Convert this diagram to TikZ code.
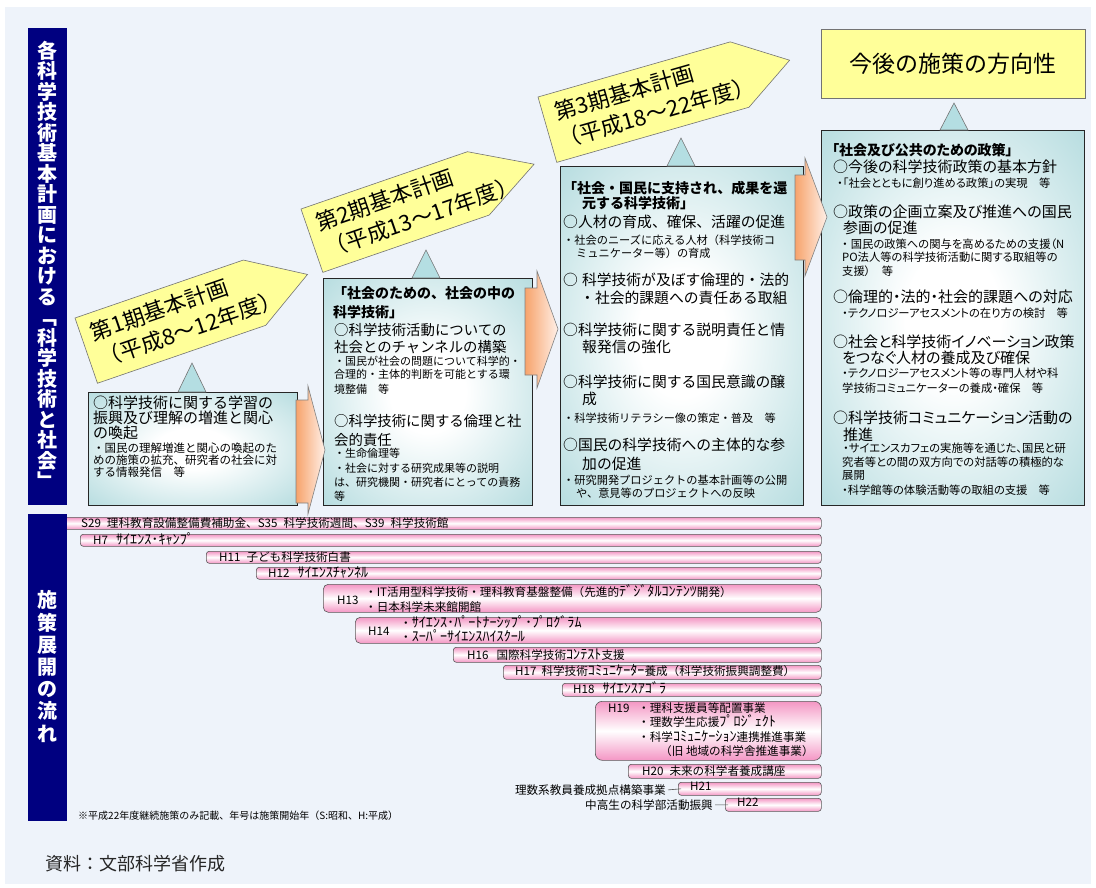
\documentclass[tikz,border=0pt]{standalone}
\usepackage{fontspec}
\usepackage{graphicx}
\setmainfont{Noto Sans CJK JP}
\newfontfamily\pj{Noto Sans CJK JP}[RawFeature=+palt]
\newcommand\hk[1]{\scalebox{1.22}[1.2]{#1}}
\definecolor{panelc}{RGB}{238,243,250}
\definecolor{navyc}{RGB}{0,0,128}
\definecolor{tealc}{RGB}{160,210,214}
\definecolor{tritc}{RGB}{180,222,226}
\definecolor{yelc}{RGB}{255,255,153}
\definecolor{orc}{RGB}{247,163,107}
\definecolor{peachc}{RGB}{255,240,232}
\definecolor{pinkc}{RGB}{244,150,196}
\pgfdeclareradialshading{tealrad}{\pgfpoint{0bp}{0bp}}{color(0bp)=(white);color(9bp)=(white);color(44bp)=(tealc);color(50bp)=(tealc)}
\tikzset{
 tealbox/.style={draw=black!85,line width=0.7pt,shading=tealrad,anchor=north west,inner sep=0pt},
 tri/.style={draw=black!55,line width=0.6pt,fill=tritc},
 yarrow/.style={draw=black!55,line width=0.6pt,fill=yelc},
 oarrow/.style={draw=black!50,line width=0.6pt,left color=orc,right color=peachc},
 bar/.style={draw=black!65,line width=0.6pt,rounded corners=3pt,top color=pinkc,bottom color=pinkc,middle color=white,anchor=north west,inner sep=0pt},
 navbox/.style={fill=navyc,anchor=north west,inner sep=0pt},
 navt/.style={text=white,font=\fontsize{20}{20.5}\selectfont\bfseries,align=center,inner sep=0pt},
 armt/.style={anchor=base west,inner sep=0pt,font=\fontsize{22}{27}\selectfont},
 m1/.style={anchor=base west,inner sep=0pt,font=\fontsize{15}{17}\selectfont},
 s1/.style={m1,font=\fontsize{11.5}{13}\selectfont},
 m2/.style={m1,font=\fontsize{14.4}{17}\selectfont},
 s2/.style={m1,font=\fontsize{11}{13}\selectfont},
 m3/.style={m1,font=\fontsize{14.8}{17}\selectfont},
 s3/.style={m1,font=\fontsize{11.2}{13}\selectfont},
 m4/.style={m1,font=\pj\fontsize{15}{17}\selectfont},
 s4/.style={m1,font=\pj\fontsize{11.3}{13}\selectfont},
 ti/.style={m1,font=\fontsize{14}{17}\selectfont\bfseries},
 ti4/.style={m1,font=\pj\fontsize{14}{17}\selectfont\bfseries},
 bt/.style={m1,font=\fontsize{11.6}{14}\selectfont},
}
\begin{document}
\begin{tikzpicture}[x=1pt,y=-1pt]
\useasboundingbox (0,0) rectangle (1096,887);
\fill[white] (0,0) rectangle (1096,887);
\fill[panelc] (5,7) rectangle (1091,884);

% ---------- timeline bars ----------
\node[bar,minimum width=761,minimum height=12] (bS29) at (60,517) {};
\node[bar,minimum width=741,minimum height=12] (bH7) at (80,534) {};
\node[bar,minimum width=615,minimum height=12] (bH11) at (206,551) {};
\node[bar,minimum width=565,minimum height=12] (bH12) at (256,567) {};
\node[bar,rounded corners=5pt,minimum width=498,minimum height=28] (bH13) at (323,584) {};
\node[bar,rounded corners=5pt,minimum width=466,minimum height=26] (bH14) at (355,617) {};
\node[bar,minimum width=368,minimum height=15] (bH16) at (453,647) {};
\node[bar,minimum width=318,minimum height=14] (bH17) at (503,665) {};
\node[bar,minimum width=259,minimum height=13] (bH18) at (562,683) {};
\node[bar,rounded corners=7pt,minimum width=226,minimum height=59] (bH19) at (595,701) {};
\node[bar,minimum width=193,minimum height=14] (bH20) at (628,764) {};
\node[bar,minimum width=143,minimum height=13] (bH21) at (678,782) {};
\node[bar,minimum width=96,minimum height=13] (bH22) at (725,798) {};

\node[bt] (tS29) at (81,527.3) {S29\hspace{6pt}理科教育設備整備費補助金、S35\hspace{6pt}科学技術週間、S39\hspace{6pt}科学技術館};
\node[bt] (tH7) at (93,544.3) {H7\hspace{8pt}\hk{ｻｲｴﾝｽ･ｷｬﾝﾌﾟ}};
\node[bt] (tH11) at (219,561.3) {H11\hspace{6pt}子ども科学技術白書};
\node[bt] (tH12) at (268,577.3) {H12\hspace{8pt}\hk{ｻｲｴﾝｽﾁｬﾝﾈﾙ}};
\node[bt] (tH13) at (337,604.3) {H13};
\node[bt] (tH13a) at (365,596.3) {・IT活用型科学技術・理科教育基盤整備（先進的\hk{ﾃﾞｼﾞﾀﾙｺﾝﾃﾝﾂ}開発）};
\node[bt] (tH13b) at (365,611.3) {・日本科学未来館開館};
\node[bt] (tH14) at (368,635.3) {H14};
\node[bt] (tH14a) at (400,627.3) {・\hk{ｻｲｴﾝｽ･ﾊﾟｰﾄﾅｰｼｯﾌﾟ･ﾌﾟﾛｸﾞﾗﾑ}};
\node[bt] (tH14b) at (400,641.3) {・\hk{ｽｰﾊﾟｰｻｲｴﾝｽﾊｲｽｸｰﾙ}};
\node[bt] (tH16) at (467,659.3) {H16\hspace{8pt}国際科学技術\hk{ｺﾝﾃｽﾄ}支援};
\node[bt] (tH17) at (515,675.3) {H17\hspace{5pt}科学技術\hk{ｺﾐｭﾆｹｰﾀｰ}養成（科学技術振興調整費）};
\node[bt] (tH18) at (573,693.3) {H18\hspace{8pt}\hk{ｻｲｴﾝｽｱｺﾞﾗ}};
\node[bt] (tH19) at (608,712.3) {H19};
\node[bt] (tH19a) at (638,712.3) {・理科支援員等配置事業};
\node[bt] (tH19b) at (638,726.3) {・理数学生応援\hk{ﾌﾟﾛｼﾞｪｸﾄ}};
\node[bt] (tH19c) at (638,741.3) {・科学\hk{ｺﾐｭﾆｹｰｼｮﾝ}連携推進事業};
\node[bt] (tH19d) at (660,755.3) {（旧 地域の科学舎推進事業）};
\node[bt] (tH20) at (642,775.3) {H20\hspace{6pt}未来の科学者養成講座};
\node[bt] (tH21) at (690,790) {H21};
\node[bt] (tH22) at (737,806) {H22};
\node[bt,anchor=base east] (lH21) at (666,794.3) {理数系教員養成拠点構築事業};
\node[bt,anchor=base east] (lH22) at (713,809.3) {中高生の科学部活動振興};
\draw[black!70,line width=0.6pt] ([xshift=2pt]lH21.east) -- ([xshift=3pt]bH21.west);
\draw[black!70,line width=0.6pt] ([xshift=2pt]lH22.east) -- ([xshift=3pt]bH22.west);

% ---------- navy side bars ----------
\node[navbox,minimum width=39,minimum height=477] (nav1) at (28,28) {};
\node[navbox,minimum width=39,minimum height=307] (nav2) at (28,514) {};
\node[navt] (nav1t) at (47.5,265) {各\\科\\学\\技\\術\\基\\本\\計\\画\\に\\お\\け\\る\\﹁\\科\\学\\技\\術\\と\\社\\会\\﹂};
\node[navt,font=\fontsize{20}{22.2}\selectfont\bfseries] (nav2t) at (47.5,666.5) {施\\策\\展\\開\\の\\流\\れ};

% ---------- teal boxes ----------
\node[tealbox,minimum width=209,minimum height=113] (box1) at (88,392) {};
\node[tealbox,minimum width=209,minimum height=227] (box2) at (323,278) {};
\node[tealbox,minimum width=243,minimum height=339] (box3) at (560,166) {};
\node[tealbox,minimum width=263,minimum height=375] (box4) at (821,130) {};

% small triangles
\path[tri] (178,392) -- (192,363) -- (206,392) -- cycle;
\path[tri] (412,278) -- (426,250) -- (440,278) -- cycle;
\path[tri] (667,166) -- (681,138) -- (695,166) -- cycle;
\path[tri] (940,130) -- (954,103) -- (968,130) -- cycle;

% orange block arrows
\path[oarrow] (296,400) -- (308,400) -- (308,386) -- (325,450) -- (308,514) -- (308,503) -- (296,503) -- cycle;
\path[oarrow] (525,288) -- (537,288) -- (537,271) -- (558,329) -- (537,388) -- (537,375) -- (525,375) -- cycle;
\path[oarrow] (795,175) -- (805,175) -- (805,158) -- (827,217) -- (805,276) -- (805,260) -- (795,260) -- cycle;

% ---------- yellow plan arrows ----------
\begin{scope}[shift={(75,318)},rotate=19]
\path[yarrow] (0,0) -- (178,0) -- (234,34.5) -- (178,69) -- (0,69) -- cycle;
\node[armt,transform shape] (arr1a) at (10,28) {第1期基本計画};
\node[armt,transform shape] (arr1b) at (10,56) {（平成8～12年度）};
\end{scope}
\begin{scope}[shift={(301,209)},rotate=19]
\path[yarrow] (0,0) -- (176,0) -- (235,33.5) -- (176,67) -- (0,67) -- cycle;
\node[armt,transform shape] (arr2a) at (10,27) {第2期基本計画};
\node[armt,transform shape] (arr2b) at (10,55) {（平成13～17年度）};
\end{scope}
\begin{scope}[shift={(538,97)},rotate=16]
\path[yarrow] (0,0) -- (200,0) -- (252,34) -- (200,68) -- (0,68) -- cycle;
\node[armt,transform shape] (arr3a) at (12,28) {第3期基本計画};
\node[armt,transform shape] (arr3b) at (8,56) {（平成18～22年度）};
\end{scope}

\node[draw=black!55,line width=0.6pt,fill=yelc,minimum width=264,minimum height=69,inner sep=0pt,font=\fontsize{23}{27}\selectfont] (future) at (953,63.5) {今後の施策の方向性};

% ---------- box 1 text ----------
\node[m1] (b1a) at (93,408.7) {○科学技術に関する学習の};
\node[m1] (b1b) at (93,423.7) {振興及び理解の増進と関心};
\node[m1] (b1c) at (93,438.7) {の喚起};
\node[s1] (b1d) at (93,452.4) {・国民の理解増進と関心の喚起のた};
\node[s1] (b1e) at (93,464.4) {めの施策の拡充、研究者の社会に対};
\node[s1] (b1f) at (93,476.4) {する情報発信　等};

% ---------- box 2 text ----------
\node[ti] (b2a) at (333,298.3) {「社会のための、社会の中の};
\node[ti] (b2b) at (333,317.3) {科学技術」};
\node[m2] (b2c) at (334,335.5) {○科学技術活動についての};
\node[m2] (b2d) at (334,352.5) {社会とのチャンネルの構築};
\node[s2] (b2e) at (334,365.2) {・国民が社会の問題について科学的・};
\node[s2] (b2f) at (334,378.2) {合理的・主体的判断を可能とする環};
\node[s2] (b2g) at (334,393.2) {境整備　等};
\node[m2] (b2h) at (334,426.5) {○科学技術に関する倫理と社};
\node[m2] (b2i) at (334,445.5) {会的責任};
\node[s2] (b2j) at (334,457.2) {・生命倫理等};
\node[s2] (b2k) at (334,472.2) {・社会に対する研究成果等の説明};
\node[s2] (b2l) at (334,486.2) {は、研究機関・研究者にとっての責務};
\node[s2] (b2m) at (334,500.2) {等};

% ---------- box 3 text ----------
\node[ti] (b3a) at (563,193.3) {「社会・国民に支持され、成果を還};
\node[ti] (b3b) at (582,208.3) {元する科学技術」};
\node[m3] (b3c) at (563,227.6) {○人材の育成、確保、活躍の促進};
\node[s3] (b3d) at (563,244.3) {・社会のニーズに応える人材（科学技術コ};
\node[s3] (b3e) at (576,257.3) {ミュニケーター等）の育成};
\node[m3] (b3f) at (563,285.6) {○\hspace{4pt}科学技術が及ぼす倫理的・法的};
\node[m3] (b3g) at (580,303.6) {・社会的課題への責任ある取組};
\node[m3] (b3h) at (563,335.6) {○科学技術に関する説明責任と情};
\node[m3] (b3i) at (582,352.6) {報発信の強化};
\node[m3] (b3j) at (563,387.6) {○科学技術に関する国民意識の醸};
\node[m3] (b3k) at (582,404.6) {成};
\node[s3] (b3l) at (563,422.3) {・科学技術リテラシー像の策定・普及　等};
\node[m3] (b3m) at (563,450.6) {○国民の科学技術への主体的な参};
\node[m3] (b3n) at (582,469.6) {加の促進};
\node[s3] (b3o) at (563,484.3) {・研究開発プロジェクトの基本計画等の公開};
\node[s3] (b3p) at (576,497.3) {や、意見等のプロジェクトへの反映};

% ---------- box 4 text ----------
\node[ti4] (b4a) at (832,155.3) {「社会及び公共のための政策」};
\node[m4] (b4b) at (833,172.7) {○今後の科学技術政策の基本方針};
\node[s4] (b4c) at (837,187.3) {・「社会とともに創り進める政策」の実現　等};
\node[m4] (b4d) at (833,217.7) {○政策の企画立案及び推進への国民};
\node[m4] (b4e) at (843,233.7) {参画の促進};
\node[s4] (b4f) at (842,248.3) {・\hspace{3pt}国民の政策への関与を高めるための支援（N};
\node[s4] (b4g) at (842,261.3) {PO法人等の科学技術活動に関する取組等の};
\node[s4] (b4h) at (842,275.3) {支援）　等};
\node[m4] (b4i) at (833,302.7) {○倫理的・法的・社会的課題への対応};
\node[s4] (b4j) at (842,317.3) {・テクノロジーアセスメントの在り方の検討　等};
\node[m4] (b4k) at (833,347.7) {○社会と科学技術イノベーション政策};
\node[m4] (b4l) at (842,363.7) {をつなぐ人材の養成及び確保};
\node[s4] (b4m) at (842,377.3) {・テクノロジーアセスメント等の専門人材や科};
\node[s4] (b4n) at (842,392.3) {学技術コミュニケーターの養成・確保　等};
\node[m4] (b4o) at (833,423.7) {○科学技術コミュニケーション活動の};
\node[m4] (b4p) at (843,440.7) {推進};
\node[s4] (b4q) at (843,452.3) {・サイエンスカフェの実施等を通じた、国民と研};
\node[s4] (b4r) at (842,466.3) {究者等との間の双方向での対話等の積極的な};
\node[s4] (b4s) at (842,479.3) {展開};
\node[s4] (b4t) at (842,494.3) {・科学館等の体験活動等の取組の支援　等};

% ---------- notes ----------
\node[m1,font=\fontsize{10}{12}\selectfont] (note) at (78,819) {※平成22年度継続施策のみ記載、年号は施策開始年（S:昭和、H:平成）};
\node[m1,font=\fontsize{18}{20}\selectfont,text=black!85] (source) at (45,870) {資料：文部科学省作成};
\end{tikzpicture}
\end{document}
